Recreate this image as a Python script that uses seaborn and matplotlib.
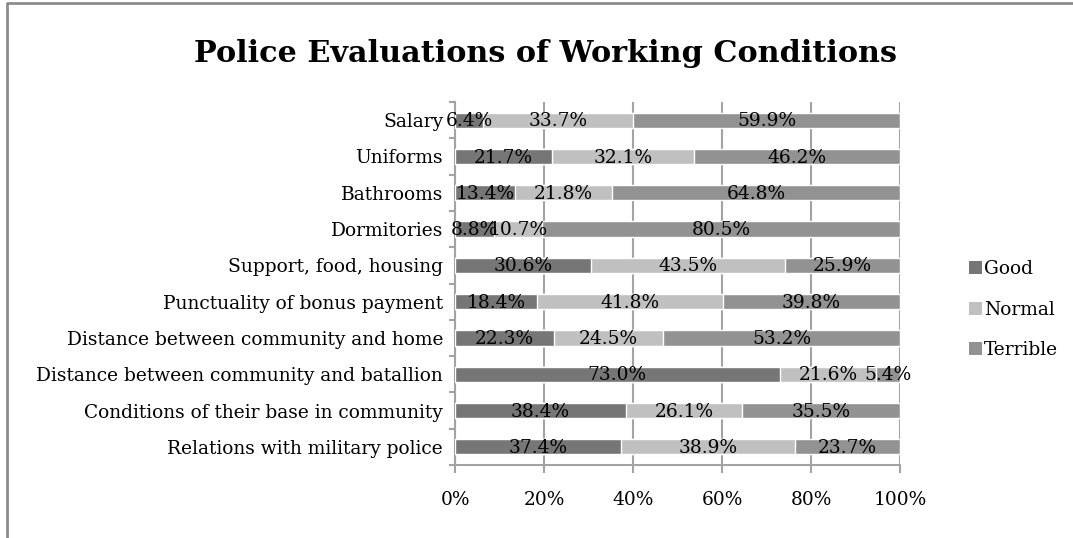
import matplotlib
matplotlib.use("Agg")
import matplotlib.pyplot as plt
from matplotlib.lines import Line2D
from matplotlib.patches import Patch
from matplotlib.ticker import FixedLocator, PercentFormatter
import numpy as np
import pandas as pd
import seaborn as sns

categories = [
    "Salary",
    "Uniforms",
    "Bathrooms",
    "Dormitories",
    "Support, food, housing",
    "Punctuality of bonus payment",
    "Distance between community and home",
    "Distance between community and batallion",
    "Conditions of their base in community",
    "Relations with military police",
]
good = [6.4, 21.7, 13.4, 8.8, 30.6, 18.4, 22.3, 73.0, 38.4, 37.4]
normal = [33.7, 32.1, 21.8, 10.7, 43.5, 41.8, 24.5, 21.6, 26.1, 38.9]
terrible = [59.9, 46.2, 64.8, 80.5, 25.9, 39.8, 53.2, 5.4, 35.5, 23.7]
series_names = ["Good", "Normal", "Terrible"]
x_ticks = [0, 20, 40, 60, 80, 100]

colors = {"Good": "#767676", "Normal": "#c0c0c0", "Terrible": "#929292"}
grid_gray = "#a3a3a3"
font = "DejaVu Serif"
fs = 13.4

sns.set_theme(style="white")
plt.rcParams["font.family"] = [font]
plt.rcParams["text.color"] = "black"

df = pd.DataFrame({"category": categories, "Good": good,
                   "Normal": normal, "Terrible": terrible})
df["cum_good"] = df["Good"]
df["cum_normal"] = df["Good"] + df["Normal"]
df["cum_terrible"] = df["cum_normal"] + df["Terrible"]

fig = plt.figure(figsize=(10.73, 5.38), dpi=100)
ax = fig.add_axes([455 / 1073, 1 - 465 / 538, 445 / 1073, 363 / 538])

# stacked bars: draw cumulative totals from the longest down
for col, name in [("cum_terrible", "Terrible"), ("cum_normal", "Normal"),
                  ("cum_good", "Good")]:
    sns.barplot(data=df, x=col, y="category", orient="h", color=colors[name],
                saturation=1, width=0.42, ax=ax, zorder=3)

# segment value labels
for i, row in df.iterrows():
    left = 0.0
    for name in series_names:
        v = row[name]
        ax.text(left + v / 2, i + 0.03, f"{v:.1f}%", ha="center", va="center",
                fontsize=fs, color="black", zorder=5)
        left += v

ax.set_xlim(0, 100)
ax.set_ylim(len(categories) - 0.5, -0.5)
ax.xaxis.set_major_locator(FixedLocator(x_ticks))
ax.xaxis.set_major_formatter(PercentFormatter(decimals=0))
ax.set_xlabel("")
ax.set_ylabel("")
ax.grid(axis="x", color=grid_gray, linewidth=1.5, zorder=0)
ax.grid(axis="y", visible=False)

for side in ["top", "right"]:
    ax.spines[side].set_visible(False)
for side in ["left", "bottom"]:
    ax.spines[side].set_color(grid_gray)
    ax.spines[side].set_linewidth(1.5)

ax.tick_params(axis="x", which="major", direction="out", length=6, width=1.5,
               color=grid_gray, pad=13, labelsize=fs, labelcolor="black",
               bottom=True)
ax.tick_params(axis="y", which="major", length=0, pad=8.5, labelsize=fs,
               labelcolor="black")
ax.yaxis.set_minor_locator(FixedLocator(np.arange(-0.5, len(categories), 1.0)))
ax.tick_params(axis="y", which="minor", direction="out", length=4, width=1.5,
               color=grid_gray, left=True)

fig.text(545 / 1073, 1 - 62 / 538, "Police Evaluations of Working Conditions",
         ha="center", va="baseline", fontsize=21.8, fontweight="bold",
         family=font, color="black")

handles = [Patch(facecolor=colors[n], edgecolor="none", label=n)
           for n in series_names]
fig.legend(handles=handles, loc="upper left",
           bbox_to_anchor=(962 / 1073, 1 - 253 / 538), frameon=False,
           fontsize=fs, handlelength=0.7, handleheight=0.7,
           handletextpad=0.1, labelspacing=1.2, borderaxespad=0)

# chart-area frame
fig.add_artist(Line2D([7 / 1073, 7 / 1073, 1.0], [0.0, 1 - 3 / 538, 1 - 3 / 538],
                      transform=fig.transFigure, color="#8c8c8c", linewidth=2))

fig.savefig("out.png", dpi=100)
